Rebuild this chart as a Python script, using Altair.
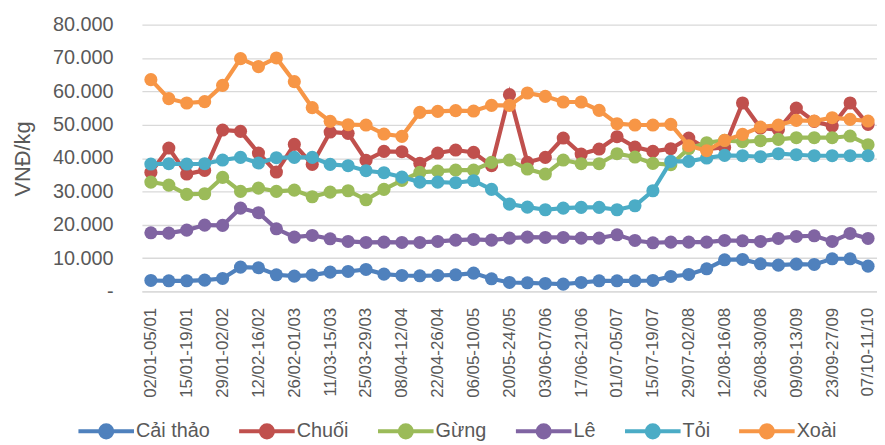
import altair as alt
import pandas as pd

FONT = "Liberation Sans"
GREY = "#595959"

weeks = [
    "02/01-05/01", "08/01-12/01", "15/01-19/01", "22/01-26/01", "29/01-02/02",
    "05/02-09/02", "12/02-16/02", "19/02-23/02", "26/02-01/03", "04/03-08/03",
    "11/03-15/03", "18/03-22/03", "25/03-29/03", "01/04-05/04", "08/04-12/04",
    "15/04-19/04", "22/04-26/04", "29/04-03/05", "06/05-10/05", "13/05-17/05",
    "20/05-24/05", "27/05-31/05", "03/06-07/06", "10/06-14/06", "17/06-21/06",
    "24/06-28/06", "01/07-05/07", "08/07-12/07", "15/07-19/07", "22/07-26/07",
    "29/07-02/08", "05/08-09/08", "12/08-16/08", "19/08-23/08", "26/08-30/08",
    "02/09-06/09", "09/09-13/09", "16/09-20/09", "23/09-27/09", "30/09-04/10",
    "07/10-11/10",
]

cai_thao = [3300, 3200, 3200, 3400, 3900, 7300, 7100, 5000, 4600, 4900,
            5800, 6000, 6600, 5200, 4800, 4700, 4800, 5000, 5500, 3800,
            2700, 2600, 2400, 2200, 2700, 3200, 3200, 3200, 3300, 4500,
            5100, 6800, 9500, 9600, 8300, 7900, 8200, 8100, 9800, 9800, 7600]
chuoi = [35700, 43000, 35200, 36300, 48400, 48000, 41500, 35800, 44100, 38100,
         47800, 47400, 39300, 42000, 41900, 38400, 41500, 42400, 41700, 37700,
         59000, 38700, 40200, 46000, 41200, 42700, 46400, 43300, 42000, 42800,
         46000, 42700, 43200, 56500, 49000, 48500, 55000, 51000, 49600, 56500, 50100]
gung = [32800, 31900, 29100, 29300, 34200, 30000, 31000, 30000, 30400, 28400,
        29800, 30200, 27500, 30600, 33300, 35700, 36100, 36400, 36400, 38700,
        39400, 36700, 35200, 39400, 38300, 38300, 41300, 40300, 38400, 38000,
        42800, 44600, 45300, 44900, 45200, 45600, 46100, 46100, 46100, 46600, 44000]
le = [17600, 17500, 18400, 19900, 19800, 25000, 23600, 18800, 16300, 16800,
      15800, 15000, 14700, 14800, 14700, 14700, 15000, 15400, 15600, 15400,
      16000, 16300, 16200, 16200, 16000, 16000, 17000, 15300, 14600, 14800,
      14800, 14800, 15300, 15200, 15000, 15900, 16500, 16700, 15000, 17400, 15900]
toi = [38200, 38300, 38200, 38300, 39400, 40200, 38500, 40100, 40200, 40200,
       38100, 37700, 36200, 35600, 34300, 32800, 32800, 32600, 33200, 30600,
       26200, 25300, 24500, 25000, 25200, 25200, 24500, 25700, 30200, 39000,
       39000, 40000, 40800, 40700, 40400, 41300, 41000, 40700, 40700, 40700, 40700]
xoai = [63500, 57800, 56500, 56900, 61800, 69800, 67400, 70000, 62900, 55100,
        51000, 50000, 49900, 47200, 46500, 53700, 54000, 54200, 54100, 55800,
        55800, 59500, 58500, 56800, 56800, 54300, 50300, 49900, 49900, 50100,
        43700, 42200, 45300, 47100, 49300, 49900, 51300, 51100, 52100, 51600, 51100]

series_names = ["Cải thảo", "Chuối", "Gừng", "Lê", "Tỏi", "Xoài"]
series_values = [cai_thao, chuoi, gung, le, toi, xoai]
colors = ["#4F81BD", "#C0504D", "#9BBB59", "#8064A2", "#4BACC6", "#F79646"]

rows = []
for name, vals in zip(series_names, series_values):
    for w, v in zip(weeks, vals):
        rows.append({"week": w, "series": name, "value": v})
df = pd.DataFrame(rows)

# one shared legend: stroke (lines) and fill (markers) use the same field and
# domain, so Vega-Lite merges them; the symbol is a line with a dot in it
legend = alt.Legend(
    orient="none", legendX=-66, legendY=380, direction="horizontal", title=None,
    symbolType="M-1,0L1,0M-0.22,0A0.22,0.22,0,1,1,0.22,0A0.22,0.22,0,1,1,-0.22,0Z",
    symbolSize=3136, symbolStrokeWidth=4, gridAlign="none",
    labelFont=FONT, labelFontSize=20, labelColor=GREY, labelOffset=0,
    columnPadding=21,
)

x_enc = alt.X(
    "week:N", sort=weeks,
    scale=alt.Scale(domain=weeks, padding=0.5),
    axis=alt.Axis(
        values=weeks[::2], labelAngle=270, labelAlign="right", labelBaseline="middle",
        labelFont=FONT, labelFontSize=17, labelColor=GREY, labelPadding=16,
        labelOverlap=False, ticks=False, domainColor="#D9D9D9", domainWidth=1.3,
        grid=False, title=None,
    ),
)
y_enc = alt.Y(
    "value:Q",
    scale=alt.Scale(domain=[0, 80000]),
    axis=alt.Axis(
        values=list(range(0, 80001, 10000)),
        labelExpr="datum.value == 0 ? '-' : replace(format(datum.value, ',.0f'), ',', '.')",
        labelFont=FONT, labelFontSize=20, labelColor=GREY, labelPadding=29,
        ticks=False, domain=False, gridColor="#D9D9D9", gridWidth=1.3,
        title="VNĐ/kg", titleFont=FONT, titleFontSize=22, titleFontWeight="normal",
        titleColor=GREY, titleX=-120, titleY=135, titleAngle=270, titleBaseline="middle",
    ),
)
stroke_enc = alt.Stroke("series:N", scale=alt.Scale(domain=series_names, range=colors), legend=legend)
fill_enc = alt.Fill("series:N", scale=alt.Scale(domain=series_names, range=colors), legend=legend)

layers = []
for name in series_names:
    base = alt.Chart(df).transform_filter(alt.datum.series == name)
    layers.append(base.mark_line(strokeWidth=4.2).encode(x=x_enc, y=y_enc, stroke=stroke_enc))
    layers.append(base.mark_circle(size=175, opacity=1).encode(x=x_enc, y=y_enc, fill=fill_enc))

chart = alt.layer(*layers).properties(
    width=741, height=269,
    padding={"left": 135, "top": 15, "right": 0, "bottom": 153},
    autosize=alt.AutoSizeParams(type="none"),
    background="white",
).configure_view(stroke=None)

chart.save("out.html", embed_options={"renderer": "svg", "actions": False})
